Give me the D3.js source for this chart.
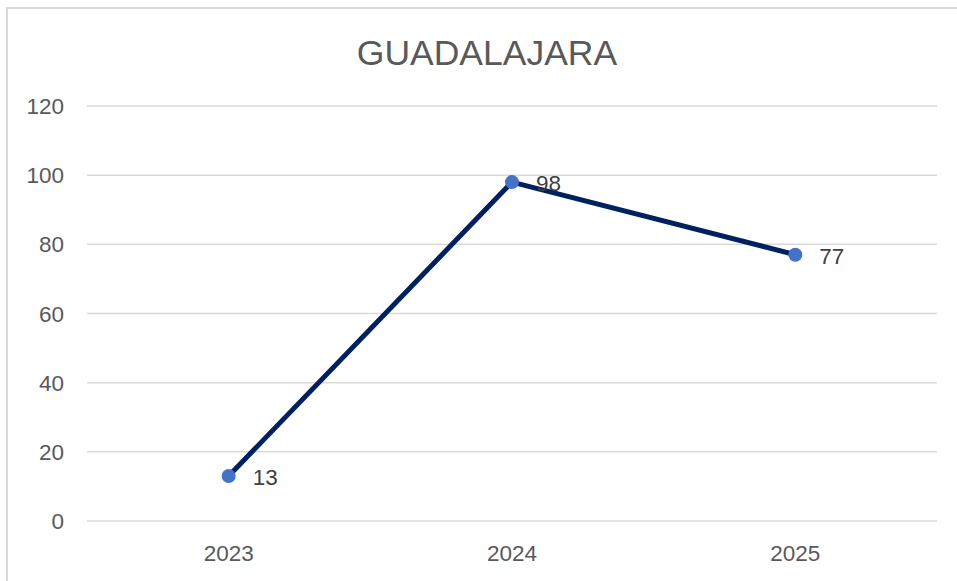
<!DOCTYPE html>
<html>
<head>
<meta charset="utf-8">
<script src="https://cdn.jsdelivr.net/npm/d3@7"></script>
<style>
  body { margin: 0; background: #fff; }
  text { font-family: "Liberation Sans", Arial, sans-serif; }
</style>
</head>
<body>
<svg width="957" height="581"></svg>
<script>
const years = ["2023", "2024", "2025"];
const values = [13, 98, 77];
const yTicks = [0, 20, 40, 60, 80, 100, 120];

const svg = d3.select("svg");
const W = 957, H = 581;

// chart frame
svg.append("rect")
   .attr("x", 7).attr("y", 8)
   .attr("width", W + 10).attr("height", H + 10)
   .attr("fill", "#fff")
   .attr("stroke", "#d9d9d9")
   .attr("stroke-width", 2);

svg.append("text")
   .attr("x", 487).attr("y", 65)
   .attr("text-anchor", "middle")
   .attr("fill", "#595959")
   .attr("font-size", 35.5)
   .text("GUADALAJARA");

const x = d3.scaleBand().domain(years).range([87, 937]);
const y = d3.scaleLinear().domain([0, 120]).range([521, 106]);

// gridlines
svg.append("g").selectAll("line")
   .data(yTicks)
   .enter().append("line")
   .attr("x1", 87).attr("x2", 937)
   .attr("y1", d => y(d)).attr("y2", d => y(d))
   .attr("stroke", "#d9d9d9")
   .attr("stroke-width", 1.5);

// y labels
svg.append("g").selectAll("text")
   .data(yTicks)
   .enter().append("text")
   .attr("x", 64)
   .attr("y", d => y(d) + 8)
   .attr("text-anchor", "end")
   .attr("fill", "#595959")
   .attr("font-size", 22.5)
   .text(d => d);

// x labels
svg.append("g").selectAll("text")
   .data(years)
   .enter().append("text")
   .attr("x", d => x(d) + x.bandwidth() / 2)
   .attr("y", 561)
   .attr("text-anchor", "middle")
   .attr("fill", "#595959")
   .attr("font-size", 22.5)
   .text(d => d);

const pts = years.map((d, i) => [x(d) + x.bandwidth() / 2, y(values[i])]);

svg.append("path")
   .attr("d", d3.line()(pts))
   .attr("fill", "none")
   .attr("stroke", "#002060")
   .attr("stroke-width", 5)
   .attr("stroke-linejoin", "round");

svg.append("g").selectAll("circle")
   .data(pts)
   .enter().append("circle")
   .attr("cx", d => d[0]).attr("cy", d => d[1])
   .attr("r", 7)
   .attr("fill", "#4472c4");

svg.append("g").selectAll("text")
   .data(pts)
   .enter().append("text")
   .attr("x", d => d[0] + 24)
   .attr("y", d => d[1] + 9)
   .attr("fill", "#404040")
   .attr("font-size", 22.5)
   .text((d, i) => values[i]);
</script>
</body>
</html>
